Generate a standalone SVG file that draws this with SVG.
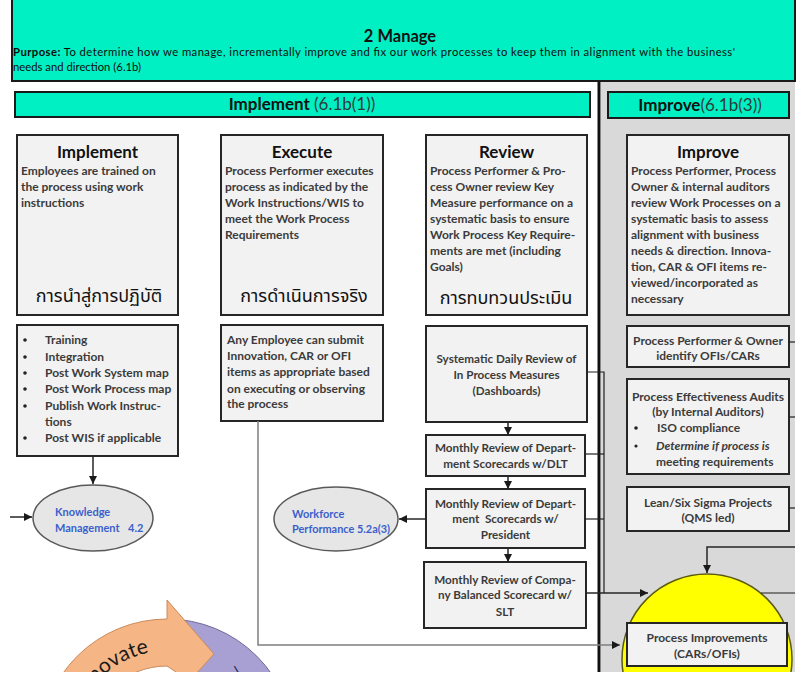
<svg xmlns="http://www.w3.org/2000/svg" width="804" height="686" viewBox="0 0 804 686">
  <style>
    .teal { fill:#00f0c4; stroke:#1a1a1a; stroke-width:2; }
    .box { fill:#f2f2f2; stroke:#262626; stroke-width:2; }
    .ttl { font-family:Lato,'Liberation Sans',sans-serif; font-weight:bold; font-size:17px; fill:#111; text-anchor:middle; }
    .body { font-family:Lato,'Liberation Sans',sans-serif; font-weight:bold; font-size:12px; fill:#3b3b3b; }
    .sm { font-size:11.7px; }
    .ctr { text-anchor:middle; }
    .thai { font-family:'Noto Sans Thai','Noto Sans Thai UI','Noto Sans Thai Looped','Loma','Garuda','Noto Sans',sans-serif; font-size:18px; fill:#111; text-anchor:middle; }
    .ell { fill:#e7e6e6; stroke:#595959; stroke-width:1.5; }
    .elt { font-family:Lato,'Liberation Sans',sans-serif; font-weight:bold; font-size:11px; fill:#3a5fcd; }
    .ln { fill:none; stroke:#262626; stroke-width:1.5; }
    .thin { fill:none; stroke:#1f1f1f; stroke-width:1.2; }
    .gry { fill:none; stroke:#7f7f7f; stroke-width:1.5; }
  </style>
  <defs>
    <clipPath id="frame"><rect x="0" y="0" width="804" height="672"/></clipPath>
    <marker id="arr" viewBox="0 0 10 10" refX="10" refY="5" markerWidth="8" markerHeight="8" markerUnits="userSpaceOnUse" orient="auto">
      <path d="M0 0 L10 5 L0 10 Z" fill="#1a1a1a"/>
    </marker>
    <path id="innoArc" d="M84.7 793.5 A95 95 0 0 1 148.9 652.7"/>
  </defs>

  <rect width="804" height="686" fill="#ffffff"/>

  <g clip-path="url(#frame)">
    <!-- right-hand "Improve" column background and divider -->
    <rect x="601" y="81" width="194" height="600" fill="#d9d9d9"/>
    <line x1="599" y1="81" x2="599" y2="686" stroke="#111" stroke-width="3"/>

    <!-- header -->
    <g id="header">
      <rect class="teal" x="12" y="-3" width="783" height="84"/>
      <text x="400" y="42" font-family="Lato,'Liberation Sans',sans-serif" font-weight="bold" font-size="16.5" fill="#111" text-anchor="middle">2 Manage</text>
      <text x="13" y="56" font-family="Lato,'Liberation Sans',sans-serif" font-size="11.3" fill="#0d0d0d" textLength="722" lengthAdjust="spacing"><tspan font-weight="bold">Purpose:</tspan> To determine how we manage, incrementally improve and fix our work processes to keep them in alignment with the business'</text>
      <text x="13" y="71" font-family="Lato,'Liberation Sans',sans-serif" font-size="11.3" fill="#0d0d0d">needs and direction (6.1b)</text>
    </g>

    <g id="implement-bar">
      <rect class="teal" x="15" y="92" width="575" height="25"/>
      <text x="302" y="110" font-family="Lato,'Liberation Sans',sans-serif" font-size="17" text-anchor="middle"><tspan font-weight="bold" fill="#111">Implement </tspan><tspan fill="#2d3b3b">(6.1b(1))</tspan></text>
    </g>
    <g id="improve-bar">
      <rect class="teal" x="608" y="92" width="181" height="26"/>
      <text x="700" y="111" font-family="Lato,'Liberation Sans',sans-serif" font-size="17" text-anchor="middle"><tspan font-weight="bold" fill="#111">Improve</tspan><tspan fill="#2d3b3b">(6.1b(3))</tspan></text>
    </g>

    <!-- stage boxes -->
    <g id="implement">
      <rect class="box" x="17" y="135" width="161" height="180"/>
      <text class="ttl" x="97.5" y="158">Implement</text>
      <text class="body" x="21" y="175">Employees are trained on</text>
      <text class="body" x="21" y="191">the process using work</text>
      <text class="body" x="21" y="207">instructions</text>
      <text class="thai" x="99" y="302">การนำสู่การปฏิบัติ</text>
    </g>
    <g id="execute">
      <rect class="box" x="221" y="135" width="162" height="180"/>
      <text class="ttl" x="302" y="158">Execute</text>
      <text class="body" x="225" y="175">Process Performer executes</text>
      <text class="body" x="225" y="191">process as indicated by the</text>
      <text class="body" x="225" y="207">Work Instructions/WIS to</text>
      <text class="body" x="225" y="223">meet the Work Process</text>
      <text class="body" x="225" y="239">Requirements</text>
      <text class="thai" x="304" y="302">การดำเนินการจริง</text>
    </g>
    <g id="review">
      <rect class="box" x="426" y="135" width="161" height="180"/>
      <text class="ttl" x="506.5" y="158">Review</text>
      <text class="body" x="430" y="175">Process Performer &amp; Pro-</text>
      <text class="body" x="430" y="191">cess Owner review Key</text>
      <text class="body" x="430" y="207">Measure performance on a</text>
      <text class="body" x="430" y="223">systematic basis to ensure</text>
      <text class="body" x="430" y="239">Work Process Key Require-</text>
      <text class="body" x="430" y="255">ments are met (including</text>
      <text class="body" x="430" y="271">Goals)</text>
      <text class="thai" x="506" y="304">การทบทวนประเมิน</text>
    </g>
    <g id="improve">
      <rect class="box" x="627" y="135" width="162" height="180"/>
      <text class="ttl" x="708" y="158">Improve</text>
      <text class="body" x="631" y="175">Process Performer, Process</text>
      <text class="body" x="631" y="191">Owner &amp; internal auditors</text>
      <text class="body" x="631" y="207">review Work Processes on a</text>
      <text class="body" x="631" y="223">systematic basis to assess</text>
      <text class="body" x="631" y="239">alignment with business</text>
      <text class="body" x="631" y="255">needs &amp; direction. Innova-</text>
      <text class="body" x="631" y="271">tion, CAR &amp; OFI items re-</text>
      <text class="body" x="631" y="287">viewed/incorporated as</text>
      <text class="body" x="631" y="303">necessary</text>
    </g>

    <!-- implement activities -->
    <g id="implement-tasks">
      <rect class="box" x="17" y="325" width="161" height="131"/>
      <g fill="#222">
        <circle cx="25" cy="340" r="1.8"/><circle cx="25" cy="357" r="1.8"/>
        <circle cx="25" cy="373" r="1.8"/><circle cx="25" cy="389" r="1.8"/>
        <circle cx="25" cy="406" r="1.8"/><circle cx="25" cy="438" r="1.8"/>
      </g>
      <text class="body" x="45" y="344">Training</text>
      <text class="body" x="45" y="361">Integration</text>
      <text class="body" x="45" y="377">Post Work System map</text>
      <text class="body" x="45" y="393">Post Work Process map</text>
      <text class="body" x="45" y="410">Publish Work Instruc-</text>
      <text class="body" x="45" y="426">tions</text>
      <text class="body" x="45" y="442">Post WIS if applicable</text>
    </g>
    <g id="execute-ideas">
      <rect class="box" x="221" y="325" width="162" height="96"/>
      <text class="body" x="227" y="344">Any Employee can submit</text>
      <text class="body" x="227" y="360">Innovation, CAR or OFI</text>
      <text class="body" x="227" y="376">items as appropriate based</text>
      <text class="body" x="227" y="393">on executing or observing</text>
      <text class="body" x="227" y="408">the process</text>
    </g>

    <!-- review cadence -->
    <g id="daily-review">
      <rect class="box" x="426" y="326" width="161" height="96"/>
      <text class="body sm ctr" x="506.5" y="363">Systematic Daily Review of</text>
      <text class="body sm ctr" x="506.5" y="379">In Process Measures</text>
      <text class="body sm ctr" x="506.5" y="395">(Dashboards)</text>
    </g>
    <g id="dept-dlt">
      <rect class="box" x="426" y="435" width="159" height="41"/>
      <text class="body sm ctr" x="505.5" y="452">Monthly Review of Depart-</text>
      <text class="body sm ctr" x="505.5" y="468">ment Scorecards w/DLT</text>
    </g>
    <g id="dept-president">
      <rect class="box" x="426" y="489" width="159" height="59"/>
      <text class="body sm ctr" x="505.5" y="508">Monthly Review of Depart-</text>
      <text class="body sm ctr" x="505.5" y="523" xml:space="preserve">ment  Scorecards w/</text>
      <text class="body sm ctr" x="505.5" y="539">President</text>
    </g>
    <g id="company-slt">
      <rect class="box" x="424" y="562" width="162" height="66"/>
      <text class="body sm ctr" x="505" y="584">Monthly Review of Compa-</text>
      <text class="body sm ctr" x="505" y="599">ny Balanced Scorecard w/</text>
      <text class="body sm ctr" x="505" y="616">SLT</text>
    </g>

    <!-- improvement sources -->
    <g id="identify">
      <rect class="box" x="627" y="326" width="162" height="41"/>
      <text class="body ctr" x="708" y="345">Process Performer &amp; Owner</text>
      <text class="body ctr" x="708" y="360">identify OFIs/CARs</text>
    </g>
    <g id="audits">
      <rect class="box" x="627" y="379" width="162" height="95"/>
      <text class="body ctr" x="708" y="401">Process Effectiveness Audits</text>
      <text class="body ctr" x="708" y="416">(by Internal Auditors)</text>
      <circle cx="636" cy="428" r="1.8" fill="#222"/>
      <text class="body" x="657" y="432">ISO compliance</text>
      <circle cx="636" cy="446" r="1.6" fill="#222"/>
      <text class="body" x="656" y="450" font-style="italic">Determine if process is</text>
      <text class="body" x="656" y="466">meeting requirements</text>
    </g>
    <g id="lean">
      <rect class="box" x="627" y="487" width="162" height="44"/>
      <text class="body ctr" x="708" y="507">Lean/Six Sigma Projects</text>
      <text class="body ctr" x="708" y="522">(QMS led)</text>
    </g>

    <!-- outcome -->
    <g id="process-improvements">
      <circle cx="707" cy="659" r="85" fill="#ffff00" stroke="#5a5a10" stroke-width="1.5"/>
      <rect class="box" x="627" y="623" width="160" height="43"/>
      <text class="body ctr" x="707" y="642">Process Improvements</text>
      <text class="body ctr" x="707" y="658">(CARs/OFIs)</text>
    </g>

    <!-- linked categories -->
    <g id="knowledge-management">
      <ellipse class="ell" cx="93" cy="518" rx="60" ry="33"/>
      <text class="elt" x="55" y="516">Knowledge</text>
      <text class="elt" x="55" y="532">Management <tspan x="128">4.2</tspan></text>
    </g>
    <g id="workforce-performance">
      <ellipse class="ell" cx="336" cy="519" rx="62" ry="32"/>
      <text class="elt" x="292" y="518">Workforce</text>
      <text class="elt" x="292" y="533" textLength="98" lengthAdjust="spacingAndGlyphs">Performance 5.2a(3)</text>
    </g>

    <!-- cycle graphic, lower left -->
    <g id="cycle">
      <path d="M167 619 A127 127 0 0 1 294 746 L247 746 A80 80 0 0 0 167 666 Z" fill="#a8a0d2" stroke="#6f6898" stroke-width="1"/>
      <path d="M40 746 A127 127 0 0 1 167 619 L167 600 L214 654 L194 676 L182 676 L167 666 A80 80 0 0 0 87 746 Z" fill="#f5b585" stroke="#c98a5a" stroke-width="1"/>
      <text font-family="Lato,'Liberation Sans',sans-serif" font-size="21" fill="#1a1a1a"><textPath href="#innoArc" startOffset="100%" text-anchor="end">Innovate</textPath></text>
      <text x="236" y="674" font-family="Lato,'Liberation Sans',sans-serif" font-size="12" fill="#2a2a55" text-anchor="middle" transform="rotate(-31 236 669)">I</text>
    </g>

    <!-- connectors -->
    <g id="connectors">
      <path class="ln" d="M93 456 V484" marker-end="url(#arr)"/>
      <path class="ln" d="M10 517 H32" marker-end="url(#arr)"/>
      <path class="gry" d="M258 421 V645 H620" marker-end="url(#arr)"/>
      <path class="ln" d="M508 422 V435" marker-end="url(#arr)"/>
      <path class="ln" d="M508 476 V489" marker-end="url(#arr)"/>
      <path class="ln" d="M508 548 V562" marker-end="url(#arr)"/>
      <path class="ln" d="M426 519 H399" marker-end="url(#arr)"/>
      <path class="ln" d="M586 593 H648" marker-end="url(#arr)"/>
      <path class="thin" d="M587 372 H604 V593"/>
      <path class="thin" d="M585 454 H604"/>
      <path class="thin" d="M585 519 H604"/>
      <path class="thin" d="M789 342 H795"/>
      <path class="thin" d="M789 417 H795"/>
      <path class="thin" d="M789 508 H795"/>
      <path class="ln" d="M795 547 H707 V573" marker-end="url(#arr)"/>
      <path class="thin" d="M795 593 H761"/>
    </g>
  </g>
</svg>
